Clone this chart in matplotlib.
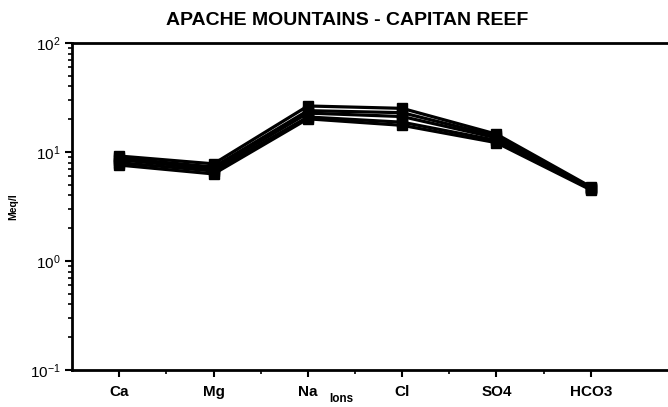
import matplotlib
matplotlib.use("Agg")
import matplotlib.pyplot as plt
from matplotlib.ticker import FixedLocator, LogLocator, NullFormatter

plt.rcParams["font.family"] = ["Liberation Sans", "DejaVu Sans"]
plt.rcParams["mathtext.fontset"] = "custom"
plt.rcParams["mathtext.rm"] = "Liberation Sans"
plt.rcParams["mathtext.default"] = "regular"

ions = ["Ca", "Mg", "Na", "Cl", "SO4", "HCO3"]

# meq/l for each sampled well
well_a = [9.2, 7.8, 26.5, 25.2, 14.6, 4.8]
well_b = [8.8, 7.3, 24.0, 23.0, 14.0, 4.7]
well_c = [8.5, 7.0, 22.8, 21.2, 13.5, 4.7]
well_d = [8.0, 6.7, 21.0, 18.8, 12.8, 4.6]
well_e = [7.6, 6.3, 20.2, 17.6, 12.2, 4.5]
wells = [well_a, well_b, well_c, well_d, well_e]

fig = plt.figure(figsize=(6.68, 4.07), dpi=100)
ax = fig.add_axes([0.108, 0.091, 0.95, 0.803])

xs = list(range(len(ions)))
for w in wells:
    ax.plot(xs, w, color="black", lw=2.3, marker="s", ms=6.5,
            markerfacecolor="black", markeredgecolor="black")

ax.set_yscale("log")
ax.set_ylim(0.1, 100)
ax.set_xlim(-0.5, 6.23)

ax.xaxis.set_major_locator(FixedLocator(xs))
ax.xaxis.set_minor_locator(FixedLocator([x + 0.5 for x in xs[:-1]]))
ax.set_xticklabels(ions, fontsize=8.5, fontweight="bold")
ax.yaxis.set_major_locator(LogLocator(base=10, numticks=10))
ax.yaxis.set_minor_locator(LogLocator(base=10, subs=range(2, 10), numticks=10))
ax.yaxis.set_minor_formatter(NullFormatter())

ax.tick_params(axis="both", which="major", direction="out", length=5,
               width=1.5, labelsize=11)
ax.tick_params(axis="both", which="minor", direction="out", length=3,
               width=1.2)
ax.tick_params(axis="x", which="major", pad=6)

for s in ["left", "bottom", "top"]:
    ax.spines[s].set_linewidth(2)
ax.spines["right"].set_visible(False)

ax.set_ylabel("Meq/l", fontsize=7.5, fontweight="bold", labelpad=8)
ax.text(2.35, -0.088, "Ions", transform=ax.get_xaxis_transform(),
        ha="center", va="center", fontsize=8.5, fontweight="bold")

fig.text(0.52, 0.95, "APACHE MOUNTAINS - CAPITAN REEF", ha="center",
         va="center", fontsize=14, fontweight="bold")

fig.savefig("out.png", dpi=100)
